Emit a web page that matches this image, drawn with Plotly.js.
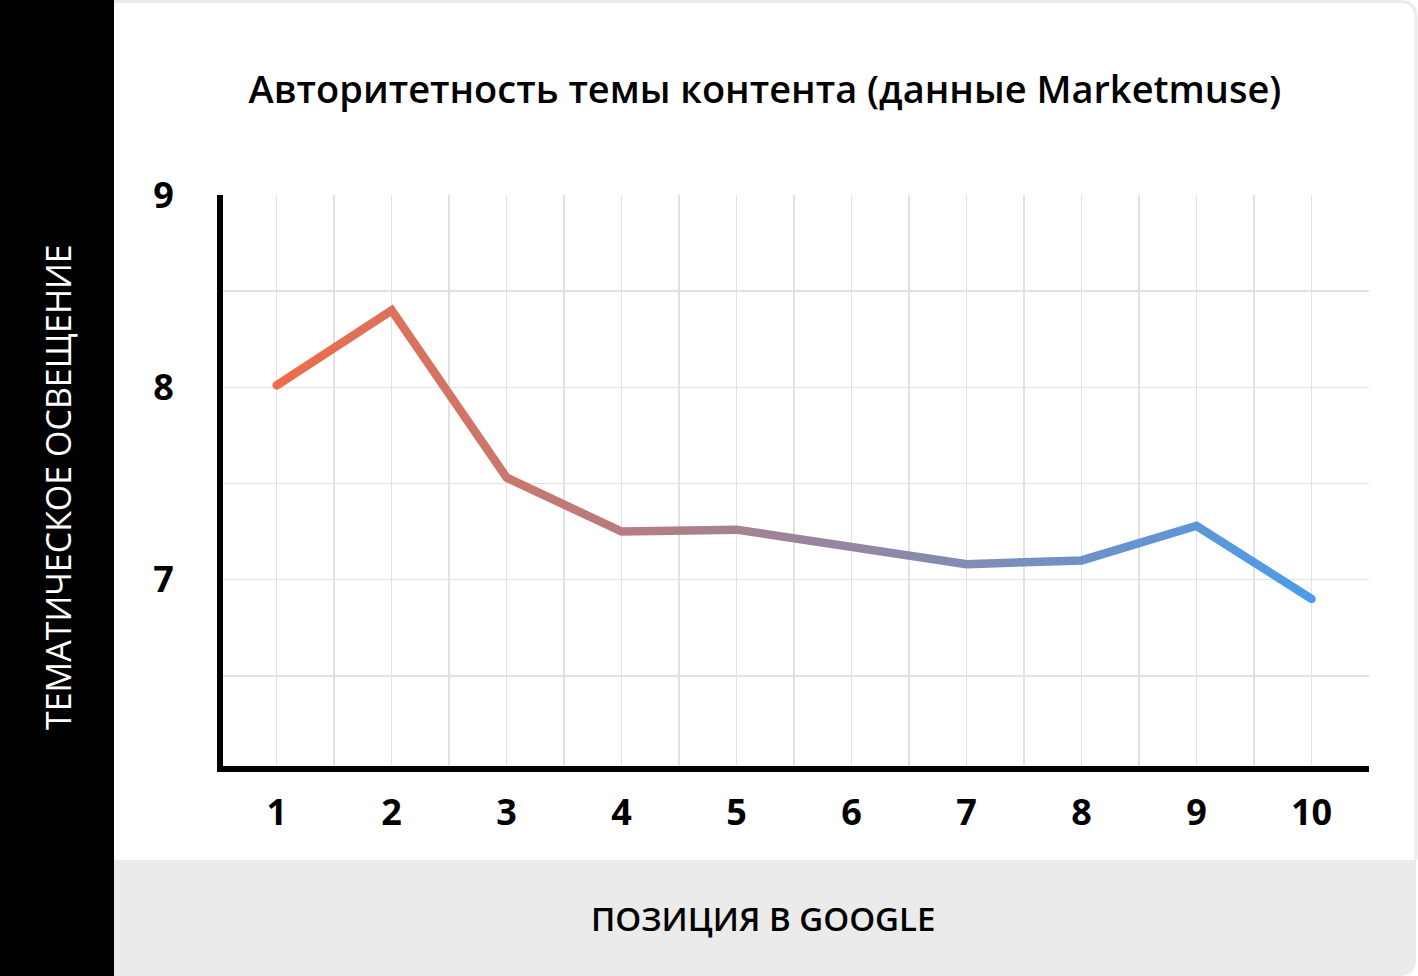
<!DOCTYPE html>
<html>
<head>
<meta charset="utf-8">
<script src="https://cdn.plot.ly/plotly-3.0.1.min.js"></script>
<style>
  html, body { margin: 0; padding: 0; background: #ffffff; }
  #chart { width: 1418px; height: 976px; }
</style>
</head>
<body>
<div id="chart"></div>
<script>
// positions in google and topical authority score
const positions = [1, 2, 3, 4, 5, 6, 7, 8, 9, 10];
const authority = [8.01, 8.40, 7.53, 7.25, 7.26, 7.17, 7.08, 7.10, 7.28, 6.90];
const xTickLabels = ['1', '2', '3', '4', '5', '6', '7', '8', '9', '10'];
const yTickValues = [7, 8, 9];
const yTickLabels = ['7', '8', '9'];

const W = 1418, H = 976;
// axis lines are drawn just outside the plot box, so the box sits a bit inside them
const M = {l: 223, r: 49, t: 195, b: 210};
const plotW = W - M.l - M.r;
const plotH = H - M.t - M.b;

// pixel -> paper coords, for the decoration shapes
function px2x(px) {
    return (px - M.l) / plotW;
}
function px2y(py) {
    return (H - M.b - py) / plotH;
}

let data = [{
    x: positions,
    y: authority,
    type: 'scatter',
    mode: 'lines',
    line: {color: '#ee6c4a', width: 8.5},
    hoverinfo: 'skip',
    showlegend: false
}];

let gridCol = '#e2e2e2';

// grey footer with a rounded bottom right corner
let r = 16;
let footer = 'M ' + px2x(114) + ',' + px2y(860) +
    ' L ' + px2x(1416) + ',' + px2y(860) +
    ' L ' + px2x(1416) + ',' + px2y(H - r) +
    ' Q ' + px2x(1416) + ',' + px2y(H) + ' ' + px2x(1416 - r) + ',' + px2y(H) +
    ' L ' + px2x(114) + ',' + px2y(H) + ' Z';

// thin card border on top and right with a rounded top right corner
let border = 'M ' + px2x(114) + ',' + px2y(1.5) +
    ' L ' + px2x(1416 - r) + ',' + px2y(1.5) +
    ' Q ' + px2x(1416) + ',' + px2y(1.5) + ' ' + px2x(1416) + ',' + px2y(1.5 + r) +
    ' L ' + px2x(1416) + ',' + px2y(860);

var layout = {
    width: W,
    height: H,
    margin: {l: M.l, r: M.r, t: M.t, b: M.b, pad: 0},
    paper_bgcolor: '#ffffff',
    plot_bgcolor: 'rgba(0,0,0,0)',
    font: {family: 'Open Sans, sans-serif', color: '#000000'},
    title: {
        text: 'Авторитетность темы контента (данные Marketmuse)',
        font: {family: 'Open Sans, sans-serif', size: 38, weight: 600, color: '#000000'},
        xref: 'paper',
        x: px2x(765),
        xanchor: 'center',
        yref: 'container',
        y: 1 - 90 / H,
        yanchor: 'middle'
    },
    xaxis: {
        range: [0.533, 10.5],
        tickvals: positions,
        ticktext: xTickLabels,
        ticks: '',
        ticklabelstandoff: 10,
        tickfont: {family: 'Open Sans, sans-serif', size: 36, weight: 700, color: '#000000'},
        showgrid: true,
        gridcolor: gridCol,
        gridwidth: 1.5,
        minor: {dtick: 0.5, showgrid: true, gridcolor: gridCol, gridwidth: 1.5},
        zeroline: false,
        showline: true,
        linecolor: '#000000',
        linewidth: 6,
        fixedrange: true
    },
    yaxis: {
        range: [6.031, 9],
        tickvals: yTickValues,
        ticktext: yTickLabels,
        ticks: '',
        ticklabelstandoff: 36,
        tickfont: {family: 'Open Sans, sans-serif', size: 36, weight: 700, color: '#000000'},
        showgrid: true,
        gridcolor: gridCol,
        gridwidth: 1.5,
        minor: {dtick: 0.5, showgrid: true, gridcolor: gridCol, gridwidth: 1.5},
        zeroline: false,
        showline: true,
        linecolor: '#000000',
        linewidth: 6,
        fixedrange: true
    },
    shapes: [
        {
            type: 'rect', xref: 'paper', yref: 'paper', layer: 'below',
            x0: px2x(0), x1: px2x(114), y0: px2y(H + 2), y1: px2y(-2),
            fillcolor: '#000000', line: {width: 0}
        },
        {
            type: 'path', xref: 'paper', yref: 'paper', layer: 'below',
            path: footer,
            fillcolor: '#ebebeb', line: {width: 0}
        },
        {
            type: 'path', xref: 'paper', yref: 'paper', layer: 'below',
            path: border,
            line: {color: '#ebebeb', width: 3}
        }
    ],
    annotations: [
        {
            text: 'ТЕМАТИЧЕСКОЕ ОСВЕЩЕНИЕ',
            xref: 'paper', yref: 'paper',
            x: px2x(58), y: px2y(487),
            xanchor: 'center', yanchor: 'middle',
            textangle: -90,
            showarrow: false,
            font: {family: 'Open Sans, sans-serif', size: 34, weight: 500, color: '#ffffff'}
        },
        {
            text: 'ПОЗИЦИЯ В GOOGLE',
            xref: 'paper', yref: 'paper',
            x: px2x(763), y: px2y(918),
            xanchor: 'center', yanchor: 'middle',
            showarrow: false,
            font: {family: 'Open Sans, sans-serif', size: 33, weight: 600, color: '#000000'}
        }
    ]
};

Plotly.newPlot('chart', data, layout, {staticPlot: true}).then(function (gd) {
    // the line fades from orange (position 1) to blue (position 10)
    let ns = 'http://www.w3.org/2000/svg';
    let defs = gd.querySelector('.main-svg defs');
    let grad = document.createElementNS(ns, 'linearGradient');
    grad.setAttribute('id', 'authorityGrad');
    grad.setAttribute('x1', '0');
    grad.setAttribute('y1', '0');
    grad.setAttribute('x2', '1');
    grad.setAttribute('y2', '0');
    [['0%', '#ee6c4a'], ['100%', '#4a9cea']].forEach(s => {
        let stop = document.createElementNS(ns, 'stop');
        stop.setAttribute('offset', s[0]);
        stop.setAttribute('stop-color', s[1]);
        grad.appendChild(stop);
    });
    defs.appendChild(grad);

    let path = gd.querySelector('.scatterlayer .trace path.js-line');
    if (path) {
        path.style.stroke = 'url(#authorityGrad)';
        path.style.strokeLinecap = 'round';
    }
});
</script>
</body>
</html>
